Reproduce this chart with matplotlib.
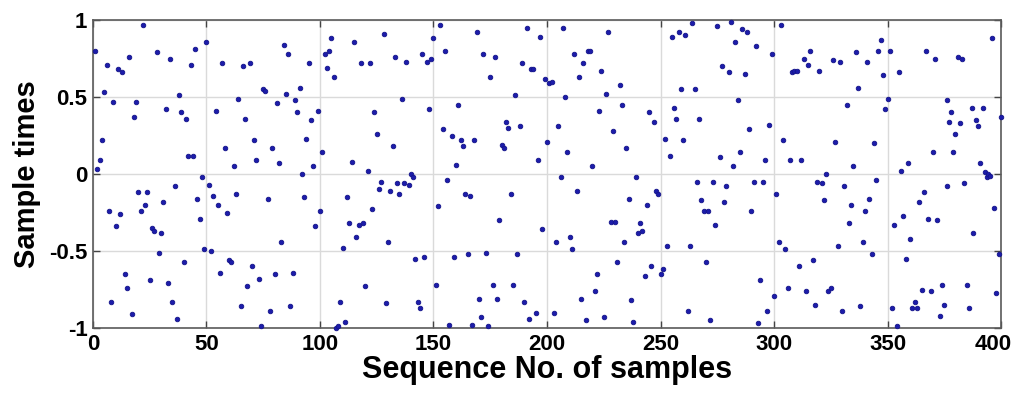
import matplotlib
matplotlib.use('Agg')
import matplotlib.pyplot as plt
import matplotlib.transforms as mtransforms

# sample values, in order of sequence no. (1..376)
values = [
    0.80, 0.03, 0.09, 0.22, 0.53, 0.71, -0.24, -0.83, 0.47, -0.34,
    0.68, -0.26, 0.66, -0.65, -0.74, 0.76, -0.91, 0.37, 0.47, -0.12,
    -0.24, 0.97, -0.20, -0.12, -0.69, -0.35, -0.37, 0.79, -0.51, -0.38,
    -0.18, 0.42, -0.71, 0.75,
    -0.83, -0.08, -0.94, 0.51, 0.40, -0.57, 0.36, 0.12, 0.71, 0.12,
    0.81, -0.16, -0.29, -0.02, -0.49, 0.86, -0.07, -0.50, -0.14, 0.41,
    -0.20, -0.64, 0.72, 0.17, -0.25, -0.56, -0.57, 0.05, -0.13, 0.49,
    -0.86, 0.70, 0.36, -0.73,
    0.72, -0.60, 0.22, 0.09, -0.68, -0.99, 0.55, 0.54, -0.16, -0.89,
    0.17, -0.65, 0.46, 0.07, -0.44, 0.84, 0.52, 0.78, -0.86, -0.64,
    0.48, 0.40, 0.56, 0.00, -0.15, 0.23, 0.72, 0.35, 0.05, -0.34,
    0.41, -0.24, 0.14, 0.78, 0.69,
    0.80, 0.88, 0.63, -1.00, -0.99, -0.83, -0.48, -0.96, -0.15, -0.32,
    0.08, 0.86, -0.41, -0.33, 0.72, -0.32, -0.73, 0.02, 0.72, -0.23,
    0.40, 0.26, -0.10, -0.05, 0.91, -0.84, -0.44, -0.11, 0.18, 0.76,
    -0.06, -0.13, 0.49, -0.06,
    0.73, -0.07, 0.00, -0.02, -0.55, -0.83, -0.87, 0.78, -0.54, 0.73,
    0.42, 0.75, 0.88, -0.72, -0.21, 0.97, 0.29, 0.80, -0.04, -0.98,
    0.25, -0.54, 0.06, 0.45, 0.22, 0.18, -0.13, -0.52, -0.14, -0.98,
    0.22, 0.92, -0.81,
    -0.93, 0.78, -0.51, -0.99, 0.63, -0.72, 0.76, -0.81, -0.30, 0.19,
    0.17, 0.34, 0.30, -0.13, -0.72, 0.51, -0.52, 0.31, 0.72, -0.83,
    0.95, -0.94, 0.68, 0.68, -0.90, 0.09, 0.89, -0.36, 0.62, 0.21,
    0.59, 0.60, -0.90, -0.44, 0.31,
    -0.02, 0.95, 0.50, 0.14, -0.41, -0.49, 0.78, -0.11, 0.63, -0.81,
    0.72, -0.95, 0.80, 0.80, 0.05, -0.76, -0.65, 0.41, 0.67, -0.93,
    0.52, 0.92, -0.31, 0.28, -0.31, -0.57, 0.58, 0.45, -0.44, 0.17,
    -0.16, -0.82, -0.96, -0.02,
    -0.38, -0.32, -0.37, -0.66, -0.20, 0.40, -0.60, 0.34, -0.11, -0.13,
    -0.65, -0.62, 0.23, -0.47, 0.12, 0.89, 0.43, 0.36, 0.92, 0.55,
    0.22, 0.90, -0.89, -0.47, 0.98, 0.55, -0.05, 0.36, -0.17, -0.24,
    -0.57, -0.24, -0.95, -0.05,
    -0.33, 0.96, 0.11, 0.70, -0.18, -0.08, 0.66, 0.99, 0.05, 0.86,
    0.48, 0.14, 0.94, 0.65, 0.92, 0.29, -0.24, -0.05, 0.83, -0.97,
    -0.69, -0.05, 0.09, -0.89, 0.32, 0.78, -0.79, -0.13, -0.44, 0.97,
    0.22, -0.49, -0.74, 0.09, 0.66,
    0.67, 0.67, -0.60, 0.09, 0.75, -0.76, 0.71, 0.80, -0.56, -0.85,
    -0.05, 0.67, -0.06, -0.17, 0.00, -0.76, -0.74, 0.74, 0.21, -0.47,
    0.73, -0.89, -0.08, 0.45, -0.32, -0.20, 0.05, 0.79, 0.56, -0.86,
    -0.44, -0.24, 0.73,
    -0.16, -0.52, 0.20, -0.04, 0.80, 0.87, 0.64, 0.42, 0.49, 0.80,
    -0.87, -0.33, -0.99, 0.66, 0.02, -0.27, -0.55, 0.07, -0.42, -0.87,
    -0.83, -0.87, -0.18, -0.75, -0.12, 0.80, -0.29, -0.76, 0.14, 0.75,
    -0.30, -0.92, -0.72, -0.85, 0.48,
]

# last stretch (dense near the right edge), positions read directly
tail_no = [376.1, 377.0, 378.0, 379.0, 379.9, 380.9, 382.0, 382.8, 383.9, 384.9,
           385.8, 387.1, 387.8, 389.0, 390.0, 390.9, 391.9, 393.0, 393.9, 394.4,
           395.2, 396.1, 396.8, 397.8, 399.0, 400.0]
tail_values = [-0.08, 0.34, 0.40, 0.14, 0.26, 0.76, 0.33, 0.75, -0.06, -0.72,
               -0.87, 0.43, -0.38, 0.35, 0.31, 0.07, 0.43, 0.01, -0.02, -0.00,
               -0.01, 0.88, -0.22, -0.77, -0.52, 0.37]

x_ticks = [0, 50, 100, 150, 200, 250, 300, 350, 400]
y_ticks = [-1, -0.5, 0, 0.5, 1]
y_tick_labels = ['-1', '-0.5', '0', '0.5', '1']

sample_no = list(range(1, len(values) + 1)) + tail_no
sample_val = values + tail_values

plt.rcParams['font.family'] = ['Liberation Sans', 'DejaVu Sans']

fig = plt.figure(figsize=(10.17, 3.94), dpi=100)
ax = fig.add_axes([0.0914, 0.1675, 0.8929, 0.7817])

ax.plot(sample_no, sample_val, 'o', ms=3.3, color='#1c1caa', mec='#14148a',
        mew=0.6, clip_on=False, zorder=3)

ax.set_xlim(0, 400)
ax.set_ylim(-1, 1)
ax.set_xticks(x_ticks)
ax.set_yticks(y_ticks)
ax.set_yticklabels(y_tick_labels)
ax.grid(True, color='#dadada', lw=1)
ax.set_axisbelow(True)

ax.tick_params(direction='in', top=True, right=True, length=5, width=1,
               color='#444444', labelsize=16)
ax.tick_params(axis='x', pad=4)
ax.tick_params(axis='y', pad=4)
for lbl in ax.get_xticklabels() + ax.get_yticklabels():
    lbl.set_fontweight('bold')
for sp in ax.spines.values():
    sp.set_color('#5a5a5a')
    sp.set_linewidth(1.2)

# keep the "400" label inside the figure edge
last = ax.get_xticklabels()[-1]
last.set_transform(last.get_transform() +
                   mtransforms.ScaledTranslation(-8 / 100, 0, fig.dpi_scale_trans))

ax.set_xlabel('Sequence No. of samples', fontsize=22, fontweight='bold', labelpad=0)
ax.set_ylabel('Sample times', fontsize=21, fontweight='bold', labelpad=6)

fig.savefig('out.png', dpi=100)
